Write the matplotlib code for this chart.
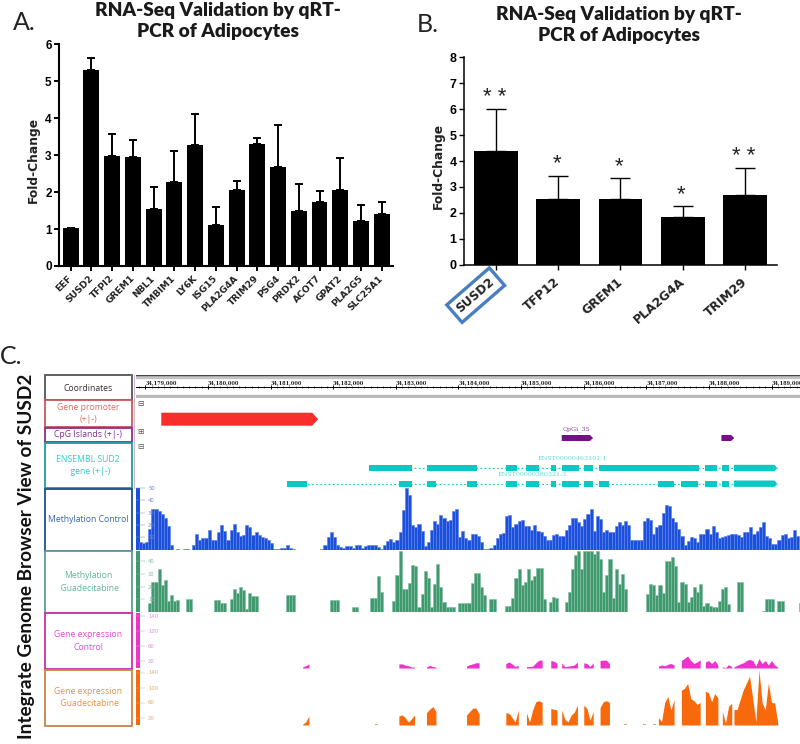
import matplotlib
matplotlib.use("Agg")
import matplotlib.pyplot as plt
from matplotlib.patches import Rectangle, Polygon
import numpy as np

W, H = 800, 744
# ---------- panel A ----------
genes_a = ["EEF","SUSD2","TFPI2","GREM1","NBL1","TMBIM1","LY6K","ISG15","PLA2G4A","TRIM29","PSG4","PRDX2","ACOT7","GPAT2","PLA2G5","SLC25A1"]
vals_a = [1.03,5.3,2.98,2.94,1.55,2.27,3.27,1.1,2.07,3.29,2.69,1.5,1.74,2.07,1.22,1.41]
tops_a = [1.03,5.64,3.57,3.41,2.15,3.1,4.12,1.6,2.29,3.46,3.82,2.23,2.04,2.93,1.64,1.72]
# ---------- panel B ----------
genes_b = ["SUSD2","TFP12","GREM1","PLA2G4A","TRIM29"]
vals_b = [4.37,2.52,2.52,1.85,2.67]
tops_b = [6.0,3.42,3.33,2.25,3.72]
stars_b = ["* *","*","*","*","* *"]
# ---------- panel C: binned tracks (50 bp bins) ----------
meth_ctrl = [0,6,5,6,17,33,33,31,29,26,19,4,0,0.3,0,0.5,0.5,0,
    4,13,8,9,9,16,8,8,14,20,15,8,16,21,14,11,12,20,18,12,14,12,10,9,8,5,
    .5,.5,1,1,3.5,1,.3,0,0,0,0,0,0,0,0,.5,
    4,10,14.5,10,4,2,1,2.5,2.5,1.5,4,4,1.5,3,4,4,4,2,.5,4,7,8.5,6,7.5,14,32,50,44,20,18,21,15,3,6,16,23,21,28,26,23,24,31,33,10,15,
    9,8,13,13,11,6,.3,.3,1.5,4,9,13,13.5,27,28,18,21,23,24,19,19,16,20,15,14,11,8,8,12,13,11,11,16,20,26,26,22,19,25,29,33,15,27,25,14,15.5,14,14,19,22,20,23,20,8,8,7.5,8,23,26,24,13,18,20,30,36,35,26,22,17,11,3.5,7,10,9,6,13,13,17,13,19,14,9,10.5,11,12,13,12.5,12,10,14.5,14,18,13,15,18,22,11,9,4.5,4.5,8,12,13,9,10,16,11]
meth_guad = [0,0,0,0,7,24,24,34,21,25,8.5,13,9,9.5,0,.3,10.5,10.5,0,0,0,0,0,0,0,
    9.5,9.5,7,7,0,10,18,15,20,17,2,15,12.5,12.5,0,0,0,0,0,0,0,0,0,13.5,13.5,13.5,
    0,0,0,0,0,0,0,0,0,0,0,9.5,9.5,9.5,0,0,0,0,4,4,0,0,0,0,11,11,28,16,0,0,0,
    8.5,29,48,18,18,23,37,36,4,14,32,27,4,22,38,20,8,4,4,4,0,7,7,
    7,7,23,31,31,20,13,0,10,10,0,0,0,5,5,11,27,34,21,24,34,25,28,35,35,10,0,8,12,11,0,0,8,16,34,45,48,34,48,48,48,46,48,42,16,29,42,11,34,22,30,18,0,0,0,0,0,0,14,22,21,13,21,15,40,40,43,36,8,24,22,8,12,20,16,22,5,7,5,4,4,9,18,20,6,0,0,24,24,0,0,0,0,0,0,.4,10.5,10.5,10,0,9,9,0,0,0,0,0,7]
# ---------- panel C: expression blocks (start bp, values every 50 bp) ----------
block_starts = [2512,4049,4491,5130,5757,6087,6475,6650,7002,7262,8194,8561,8944,9215,9400]
expr_ctrl = [[3,6,11],[11,11,8,6,3,2],[3,7,4,2],[5,9,11,14,14],[12,16,11,4,7],[4,4,5,14,21,21],[20,18,13],[14,3,5,6,8,16],[14,12,4,14],[20,21,21,12],[5,8,6,10,12,8],[20,26,32,20,12,16,22],[16,20,12,20,8],[3,1,9,3],[3,7,11,14,20,23,20,5,25,12,20,8,20,8,2]]
expr_guad = [[2,8,24],[24,27,20,8,16,27],[33,42,49,36],[27,36,45,45,30],[33,31,20,8,40],[32,8,41,62,65,60],[44,42,40],[40,15,8,26,34,53],[53,44,13,36],[46,62,65,60],[20,9,60,76,40,68],[93,98,111,70,65,55,60],[90,86,62,84,72],[36,5,50,58],[41,41,68,94,112,130,70,8,146,60,40,112,60,59,5]]
dash_starts = [3664,6300,7650,7950,8100]
dash_values = [[2,2],[2,2],[2,2],[2,2],[2,2]]
# ---------- panel C: annotations ----------
promoter = (255, 2760)
cpg_starts, cpg_ends = [6650, 9200], [7150, 9405]
tx1_starts = [3575,4491,5757,6087,6475,6650,7002,7246,8944,9215,9400]
tx1_ends   = [4257,5299,5940,6283,6560,6922,7145,8837,9124,9316,10090]
tx2_starts = [2262,4049,4491,5130,5757,6087,6475,6650,7002,7246,8194,8561,8944,9215,9400]
tx2_ends   = [2586,4257,4640,5299,5940,6283,6560,6922,7145,7401,8443,8832,9124,9316,10090]
coord_labels = ["34,%d,000" % k for k in range(179, 190)]
track_names = ["Coordinates","Gene promoter\n(+|-)","CpG Islands (+|-)","ENSEMBL SUD2\n  gene (+|-)","Methylation Control","Methylation\n  Guadecitabine","Gene expression\nControl","Gene expression\n  Guadecitabine"]
box_tops = [375,400,427.5,442.5,488.5,551,613,669.5]
box_bots = [399.5,427,442,488,551,613,669,725.5]
box_cols = ["#555555","#c9565a","#8a2f8f","#1f9c9c","#1f4e8c","#5f9a96","#cc2fa8","#c8854a"]
txt_cols = ["#333333","#dd6a66","#7d2f8e","#35c8c8","#3563b5","#60b59c","#e24ccc","#e0923f"]
BLUE, GREEN, PINK, ORANGE = "#1c50dc", "#3f9a6e", "#ee33cc", "#f7690a"
CYAN, RED, PURPLE = "#0cc8c4", "#fa2d2d", "#7a0f85"

BOLD = ["Liberation Sans"]
TITLE = ["Lato"]
fig = plt.figure(figsize=(W/100, H/100), dpi=100, facecolor="white")

def axpx(x0, y0, x1, y1, **kw):
    return fig.add_axes([x0/W, 1-y1/H, (x1-x0)/W, (y1-y0)/H], **kw)

def ftext(x, y, s, **kw):
    return fig.text(x/W, 1-y/H, s, **kw)

def gene_label(ax, x, name, rot, size, dx, dy):
    return ax.annotate(name, (x, 0), xycoords=("data", "axes fraction"), xytext=(dx, dy),
                       textcoords="offset points", rotation=rot, ha="right", va="top",
                       rotation_mode="anchor", family="DejaVu Sans", weight="bold",
                       fontsize=size, color="#222222", annotation_clip=False)

# ---- Panel letters and titles ----
ftext(13, 23, "A.", fontsize=18, family=TITLE, va="center", color="#222222")
ftext(417, 25, "B.", fontsize=18, family=TITLE, va="center", color="#222222")
ftext(0, 356, "C.", fontsize=18, family=TITLE, va="center", color="#222222")
ftext(218, 21, "RNA-Seq Validation by qRT-\nPCR of Adipocytes", fontsize=13.8, family=TITLE, weight="heavy",
      ha="center", va="center", color="#1a1a1a", linespacing=1.35)
ftext(619, 25, "RNA-Seq Validation by qRT-\nPCR of Adipocytes", fontsize=13.8, family=TITLE, weight="heavy",
      ha="center", va="center", color="#1a1a1a", linespacing=1.35)
ftext(27, 556, "Integrate Genome Browser View of SUSD2", fontsize=13.7, family=TITLE, weight="bold",
      rotation=90, ha="center", va="center", color="#111111")

# ---- Panel A ----
a = axpx(59.3, 44.3, 392.7, 266)
xa = np.arange(len(genes_a))
a.bar(xa, vals_a, width=0.77, color="black")
a.errorbar(xa, vals_a, yerr=[np.zeros(len(xa)), np.array(tops_a)-np.array(vals_a)], fmt="none",
           ecolor="black", elinewidth=1.4, capsize=3, capthick=1.4)
a.set_xlim(-0.55, 15.53); a.set_ylim(0, 6)
a.set_xticks(xa); a.set_xticklabels([])
for x, g in zip(xa, genes_a):
    gene_label(a, x, g, 45, 6.6, -2.2, -5.5)
a.set_yticks(range(7)); a.set_yticklabels(range(7), family=BOLD, weight="bold", fontsize=8.5)
a.tick_params(width=1.4, length=3.5, pad=2)
a.set_ylabel("Fold-Change", family="DejaVu Sans", weight="bold", fontsize=8.8, labelpad=4, color="#222222", y=0.48)
for s in ("top","right"): a.spines[s].set_visible(False)
for s in ("left","bottom"): a.spines[s].set_linewidth(1.5)

# ---- Panel B ----
b = axpx(464.3, 57.3, 777.3, 264.7)
xb = np.arange(len(genes_b))
b.bar(xb, vals_b, width=0.70, color="black")
b.errorbar(xb, vals_b, yerr=[np.zeros(len(xb)), np.array(tops_b)-np.array(vals_b)], fmt="none",
           ecolor="black", elinewidth=1, capsize=7.2, capthick=1)
b.set_xlim(-0.505, 4.516); b.set_ylim(0, 8)
b.set_xticks(xb); b.set_xticklabels([])
for i, (x, g) in enumerate(zip(xb, genes_b)):
    lab = gene_label(b, x, g, 41, 8.8, -5 if i == 0 else -3, -7.5)
    if i == 0:
        lab.set_bbox(dict(boxstyle="square,pad=0.42", fc="none", ec="#4a7fbf", lw=2.4))
b.set_yticks(range(9)); b.set_yticklabels(range(9), family=BOLD, weight="bold", fontsize=9)
b.tick_params(width=1, length=3.5, pad=2)
b.set_ylabel("Fold-Change", family="DejaVu Sans", weight="bold", fontsize=8.8, labelpad=3, color="#222222", y=0.475)
for s in ("top","right"): b.spines[s].set_visible(False)
for s in ("left","bottom"): b.spines[s].set_linewidth(1.1)
for x, top, st in zip(xb, tops_b, stars_b):
    b.annotate(st, (x, top), xytext=(-1, 1), textcoords="offset points", ha="center", va="bottom",
               fontsize=16, family=BOLD, color="#222222", linespacing=1)

# ---- Panel C: row label boxes ----
ov = axpx(0, 0, W, H, facecolor="none")
ov.set_xlim(0, W); ov.set_ylim(H, 0); ov.axis("off")
for name, y0, y1, ec, tc in zip(track_names, box_tops, box_bots, box_cols, txt_cols):
    ov.add_patch(Rectangle((45, y0), 86.5, y1-y0, fc="white", ec=ec, lw=1.3))
    ov.text(88, (y0+y1)/2 + (1 if name == "Coordinates" else 0), name, ha="center", va="center",
            fontsize=6.2, family=["Open Sans"], color=tc, linespacing=1.45)
ov.plot([134.3, 134.3], [375, 488], color="#cdb9c9", lw=0.8)

XL = (-155, 10455)
# ruler
r = axpx(135.6, 375, 800, 398, facecolor="none")
r.set_xlim(*XL); r.set_ylim(0, 1)
r.axhspan(0, 0.13, color="#b9b9b9"); r.axhspan(0.87, 1, color="#c4c4c4")
r.axhline(1, color="#444444", lw=1)
for s in ("left","right","bottom"): r.spines[s].set_visible(False)
r.spines["top"].set_position(("axes", 0.49)); r.spines["top"].set_linewidth(0.7)
r.xaxis.tick_top()
ticks = np.arange(0, 11000, 1000)
r.set_xticks(ticks); r.set_xticklabels(coord_labels, family="DejaVu Serif", weight="bold", fontsize=3.6, ha="left", color="#222222")
r.set_xticks(np.arange(-100, 10455, 100), minor=True)
r.tick_params(axis="x", which="major", direction="inout", length=3.5, width=0.7, pad=-0.8)
r.tick_params(axis="x", which="minor", direction="inout", length=1.6, width=0.4)
r.set_yticks([])
ov.text(466, 377.8, "q11.23", fontsize=3.2, ha="center", va="center", color="#555555", family="DejaVu Serif")

# features
f = axpx(135.6, 400, 800, 488, facecolor="none")
f.set_xlim(*XL); f.set_ylim(488, 400); f.axis("off")

def arrow(x0, x1, yc, h, head, color):
    f.add_patch(Polygon([(x0, yc-h/2), (x1-head, yc-h/2), (x1, yc), (x1-head, yc+h/2), (x0, yc+h/2)],
                        closed=True, fc=color, ec="none"))

arrow(*promoter, 419.2, 13, 95, RED)
for s, e in zip(cpg_starts, cpg_ends):
    arrow(s, e, 438, 6, 50, PURPLE)
f.text(6880, 429, "CpGi_35", color="#8a3a96", fontsize=4.6, family="DejaVu Serif", ha="center", va="center")

def transcript(starts, ends, yc):
    f.plot([starts[0], ends[-1]], [yc, yc], color=CYAN, lw=0.8, ls=(0, (1.5, 2.2)))
    for s, e in zip(starts[:-1], ends[:-1]):
        f.add_patch(Rectangle((s, yc-3.2), e-s, 6.4, fc=CYAN, ec="none"))
    arrow(starts[-1], ends[-1], yc, 6.4, 40, CYAN)

transcript(tx1_starts, tx1_ends, 468)
transcript(tx2_starts, tx2_ends, 483.7)
f.text(6826, 459, "ENST00000463101.1", color="#66d8d6", fontsize=4.6, family="DejaVu Serif", ha="center", va="center")
f.text(6172, 475, "ENST00000380321.3", color="#66d8d6", fontsize=4.6, family="DejaVu Serif", ha="center", va="center")
for y, g in ((403.5, "⊟"), (431, "⊞"), (446.5, "⊟")):
    ov.text(140, y, g, fontsize=5.5, ha="center", va="center", color="#555555", family="DejaVu Sans")

def track(y0, y1, ymax, color, ticks, tickcol):
    t = axpx(135.6, y0, 800, y1, facecolor="none")
    t.set_xlim(*XL); t.set_ylim(0, ymax)
    t.axvspan(XL[0], XL[0]+70, color=color, lw=0)
    for s in ("top","right","bottom","left"): t.spines[s].set_visible(False)
    t.set_xticks([])
    t.set_yticks(ticks); t.set_yticklabels(ticks, ha="left", fontsize=3.8, color=tickcol)
    t.tick_params(axis="y", direction="in", length=6.5, width=0.35, color=tickcol, pad=-9)
    return t

bl = track(488, 549.5, 50, BLUE, [10,20,30,40,50], "#6d8bc9")
bl.bar(-155 + 25 + 50*np.arange(len(meth_ctrl)), meth_ctrl, width=50, color=BLUE, edgecolor="#5c82ea", linewidth=0.45)
gr = track(551, 612, 48, GREEN, [10,20,30,40], "#7fb9a0")
gr.bar(-155 + 25 + 50*np.arange(len(meth_guad)), meth_guad, width=50, color=GREEN, edgecolor="#84bfa3", linewidth=0.45)
pk = track(613, 668, 147, PINK, [20,60,100,140], "#d990cf")
og = track(669.5, 725, 148, ORANGE, [20,60,100,140], "#dcae72")
for s, vc, vg in zip(block_starts, expr_ctrl, expr_guad):
    pk.fill_between(s + 50*np.arange(len(vc)), vc, color=PINK, lw=0)
    og.fill_between(s + 50*np.arange(len(vg)), vg, color=ORANGE, lw=0)
for s, v in zip(dash_starts, dash_values):
    og.fill_between(s + 50*np.arange(len(v)), v, color="#f0a060", lw=0)

fig.savefig("out.png", dpi=100)
